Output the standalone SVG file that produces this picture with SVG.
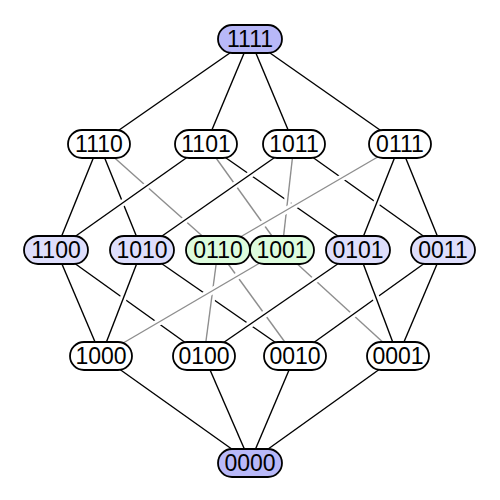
<svg xmlns="http://www.w3.org/2000/svg" width="500" height="500" viewBox="0 0 500 500">
<defs>
<style>
.h{stroke:#fff;stroke-width:7;fill:none}
.b{stroke:#000;stroke-width:1.4;fill:none}
.g{stroke:#8e8e8e;stroke-width:1.4;fill:none}
.n rect{stroke:#000;stroke-width:1.8;fill:#fff}
.n.p rect{fill:#b8b8f8}
.n.l rect{fill:#dedefc}
.n.q rect{fill:#ddfcdd}
.n text{font-family:"Liberation Sans",Arial,sans-serif;font-size:23px;text-anchor:middle;fill:#000}
</style>
</defs>
<rect width="500" height="500" fill="#fff"/>
<g id="connectors">
<line class="h" x1="250" y1="39" x2="99" y2="144"/><line class="b" x1="250" y1="39" x2="99" y2="144"/>
<line class="h" x1="250" y1="39" x2="206" y2="144"/><line class="b" x1="250" y1="39" x2="206" y2="144"/>
<line class="h" x1="250" y1="39" x2="294" y2="144"/><line class="b" x1="250" y1="39" x2="294" y2="144"/>
<line class="h" x1="250" y1="39" x2="400" y2="144"/><line class="b" x1="250" y1="39" x2="400" y2="144"/>
<line class="h" x1="99" y1="144" x2="56" y2="250"/><line class="b" x1="99" y1="144" x2="56" y2="250"/>
<line class="h" x1="99" y1="144" x2="142" y2="250"/><line class="b" x1="99" y1="144" x2="142" y2="250"/>
<line class="h" x1="99" y1="144" x2="218" y2="250"/><line class="g" x1="99" y1="144" x2="218" y2="250"/>
<line class="h" x1="206" y1="144" x2="56" y2="250"/><line class="b" x1="206" y1="144" x2="56" y2="250"/>
<line class="h" x1="206" y1="144" x2="358" y2="250"/><line class="b" x1="206" y1="144" x2="358" y2="250"/>
<line class="h" x1="206" y1="144" x2="282" y2="250"/><line class="g" x1="206" y1="144" x2="282" y2="250"/>
<line class="h" x1="294" y1="144" x2="142" y2="250"/><line class="b" x1="294" y1="144" x2="142" y2="250"/>
<line class="h" x1="294" y1="144" x2="443" y2="250"/><line class="b" x1="294" y1="144" x2="443" y2="250"/>
<line class="h" x1="294" y1="144" x2="282" y2="250"/><line class="g" x1="294" y1="144" x2="282" y2="250"/>
<line class="h" x1="400" y1="144" x2="358" y2="250"/><line class="b" x1="400" y1="144" x2="358" y2="250"/>
<line class="h" x1="400" y1="144" x2="443" y2="250"/><line class="b" x1="400" y1="144" x2="443" y2="250"/>
<line class="h" x1="400" y1="144" x2="218" y2="250"/><line class="g" x1="400" y1="144" x2="218" y2="250"/>
<line class="h" x1="56" y1="250" x2="101" y2="356"/><line class="b" x1="56" y1="250" x2="101" y2="356"/>
<line class="h" x1="56" y1="250" x2="204" y2="356"/><line class="b" x1="56" y1="250" x2="204" y2="356"/>
<line class="h" x1="142" y1="250" x2="101" y2="356"/><line class="b" x1="142" y1="250" x2="101" y2="356"/>
<line class="h" x1="142" y1="250" x2="295" y2="356"/><line class="b" x1="142" y1="250" x2="295" y2="356"/>
<line class="h" x1="218" y1="250" x2="204" y2="356"/><line class="g" x1="218" y1="250" x2="204" y2="356"/>
<line class="h" x1="218" y1="250" x2="295" y2="356"/><line class="g" x1="218" y1="250" x2="295" y2="356"/>
<line class="h" x1="282" y1="250" x2="101" y2="356"/><line class="g" x1="282" y1="250" x2="101" y2="356"/>
<line class="h" x1="282" y1="250" x2="398" y2="356"/><line class="g" x1="282" y1="250" x2="398" y2="356"/>
<line class="h" x1="443" y1="250" x2="295" y2="356"/><line class="b" x1="443" y1="250" x2="295" y2="356"/>
<line class="h" x1="443" y1="250" x2="398" y2="356"/><line class="b" x1="443" y1="250" x2="398" y2="356"/>
<line class="h" x1="358" y1="250" x2="204" y2="356"/><line class="b" x1="358" y1="250" x2="204" y2="356"/>
<line class="h" x1="358" y1="250" x2="398" y2="356"/><line class="b" x1="358" y1="250" x2="398" y2="356"/>
<line class="h" x1="101" y1="356" x2="250" y2="462"/><line class="b" x1="101" y1="356" x2="250" y2="462"/>
<line class="h" x1="204" y1="356" x2="250" y2="462"/><line class="b" x1="204" y1="356" x2="250" y2="462"/>
<line class="h" x1="295" y1="356" x2="250" y2="462"/><line class="b" x1="295" y1="356" x2="250" y2="462"/>
<line class="h" x1="398" y1="356" x2="250" y2="462"/><line class="b" x1="398" y1="356" x2="250" y2="462"/>
</g>
<g id="n1111" class="n p"><rect x="218" y="25" width="64" height="28" rx="14"/><text x="250" y="47.2">1111</text></g>
<g id="n1110" class="n"><rect x="68" y="130" width="62" height="28" rx="14"/><text x="99" y="152.2">1110</text></g>
<g id="n1101" class="n"><rect x="175" y="130" width="62" height="28" rx="14"/><text x="206" y="152.2">1101</text></g>
<g id="n1011" class="n"><rect x="263" y="130" width="62" height="28" rx="14"/><text x="294" y="152.2">1011</text></g>
<g id="n0111" class="n"><rect x="369" y="130" width="62" height="28" rx="14"/><text x="400" y="152.2">0111</text></g>
<g id="n1100" class="n l"><rect x="24" y="236" width="64" height="28" rx="14"/><text x="56" y="258.2">1100</text></g>
<g id="n1010" class="n l"><rect x="110" y="236" width="64" height="28" rx="14"/><text x="142" y="258.2">1010</text></g>
<g id="n0110" class="n q"><rect x="186" y="236" width="64" height="28" rx="14"/><text x="218" y="258.2">0110</text></g>
<g id="n1001" class="n q"><rect x="250" y="236" width="64" height="28" rx="14"/><text x="282" y="258.2">1001</text></g>
<g id="n0101" class="n l"><rect x="326" y="236" width="64" height="28" rx="14"/><text x="358" y="258.2">0101</text></g>
<g id="n0011" class="n l"><rect x="411" y="236" width="64" height="28" rx="14"/><text x="443" y="258.2">0011</text></g>
<g id="n1000" class="n"><rect x="70" y="342" width="62" height="28" rx="14"/><text x="101" y="364.2">1000</text></g>
<g id="n0100" class="n"><rect x="173" y="342" width="62" height="28" rx="14"/><text x="204" y="364.2">0100</text></g>
<g id="n0010" class="n"><rect x="264" y="342" width="62" height="28" rx="14"/><text x="295" y="364.2">0010</text></g>
<g id="n0001" class="n"><rect x="367" y="342" width="62" height="28" rx="14"/><text x="398" y="364.2">0001</text></g>
<g id="n0000" class="n p"><rect x="218" y="449" width="64" height="28" rx="14"/><text x="250" y="471.2">0000</text></g>
</svg>
